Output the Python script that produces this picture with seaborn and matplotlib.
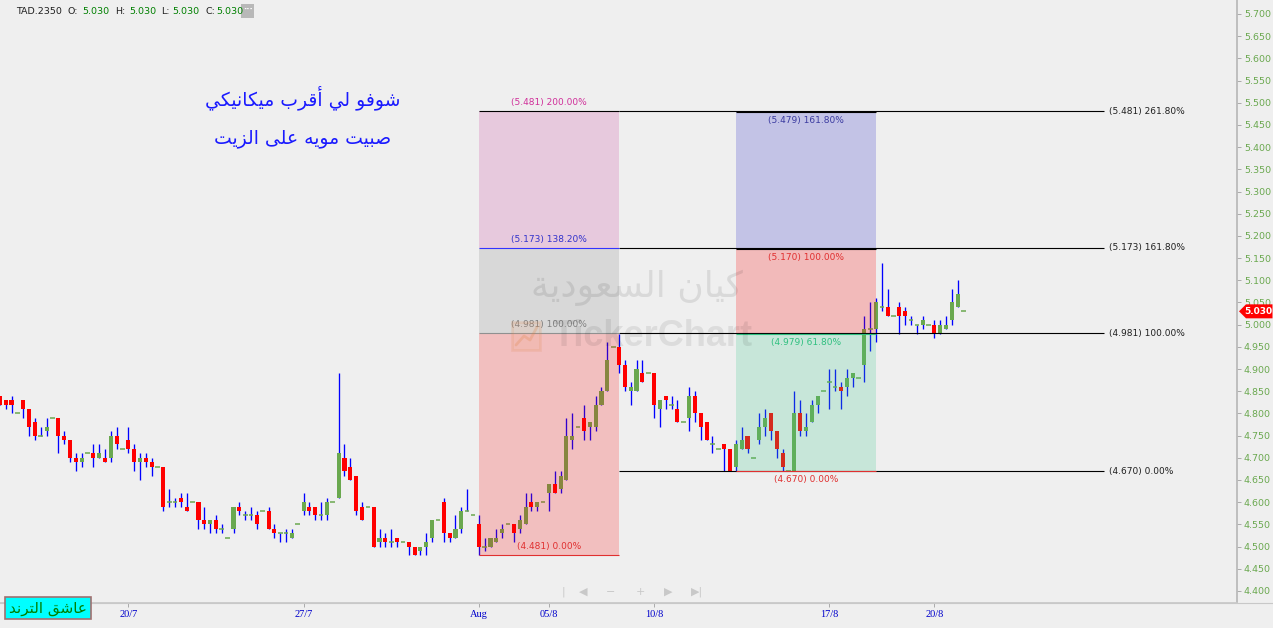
import matplotlib
matplotlib.use("Agg")
import matplotlib.pyplot as plt
import seaborn as sns
import numpy as np
import pandas as pd
from matplotlib.patches import Rectangle, Polygon
from matplotlib.lines import Line2D
from matplotlib.transforms import blended_transform_factory

sns.set_theme(style="white")
plt.rcParams['font.family'] = ['DejaVu Sans']

# hourly candles TAD.2350 (open, high, low, close)
opens = [4.84, 4.83, 4.83, 4.80, 4.83, 4.81, 4.78, 4.75, 4.76, 4.79,
         4.79, 4.75, 4.74, 4.70, 4.69, 4.71, 4.71, 4.70, 4.70, 4.70,
         4.75, 4.72, 4.74, 4.72, 4.69, 4.70, 4.69, 4.68, 4.68, 4.60,
         4.60, 4.61, 4.59, 4.60, 4.60, 4.56, 4.55, 4.56, 4.54, 4.52,
         4.54, 4.59, 4.57, 4.57, 4.57, 4.58, 4.58, 4.54, 4.53, 4.53,
         4.52, 4.55, 4.58, 4.59, 4.59, 4.57, 4.57, 4.60, 4.61, 4.70,
         4.68, 4.66, 4.59, 4.59, 4.59, 4.51, 4.52, 4.51, 4.52, 4.51,
         4.51, 4.50, 4.49, 4.50, 4.52, 4.56, 4.60, 4.53, 4.52, 4.54,
         4.58, 4.57, 4.55, 4.50, 4.50, 4.51, 4.53, 4.55, 4.55, 4.54,
         4.55, 4.60, 4.59, 4.60, 4.62, 4.64, 4.63, 4.65, 4.74, 4.77,
         4.79, 4.77, 4.77, 4.82, 4.85, 4.95, 4.95, 4.91, 4.85, 4.85,
         4.89, 4.89, 4.89, 4.81, 4.84, 4.82, 4.81, 4.78, 4.79, 4.84,
         4.80, 4.78, 4.73, 4.72, 4.73, 4.72, 4.68, 4.72, 4.75, 4.70,
         4.74, 4.77, 4.80, 4.76, 4.71, 4.67, 4.67, 4.80, 4.76, 4.78,
         4.82, 4.85, 4.87, 4.86, 4.86, 4.86, 4.88, 4.88, 4.91, 4.99,
         4.99, 5.04, 5.04, 5.02, 5.04, 5.03, 5.01, 5.00, 5.00, 5.00,
         5.00, 4.98, 4.99, 5.01, 5.04, 5.03]
highs = [4.84, 4.83, 4.84, 4.80, 4.83, 4.81, 4.79, 4.77, 4.79, 4.79,
         4.79, 4.76, 4.74, 4.71, 4.71, 4.71, 4.73, 4.73, 4.72, 4.76,
         4.77, 4.72, 4.77, 4.73, 4.71, 4.71, 4.70, 4.68, 4.68, 4.63,
         4.61, 4.62, 4.62, 4.60, 4.60, 4.59, 4.56, 4.57, 4.55, 4.52,
         4.59, 4.60, 4.58, 4.59, 4.58, 4.58, 4.59, 4.55, 4.53, 4.54,
         4.54, 4.55, 4.62, 4.60, 4.59, 4.60, 4.61, 4.60, 4.89, 4.73,
         4.70, 4.66, 4.60, 4.59, 4.59, 4.54, 4.53, 4.54, 4.52, 4.51,
         4.51, 4.50, 4.50, 4.53, 4.56, 4.56, 4.61, 4.53, 4.57, 4.59,
         4.63, 4.57, 4.57, 4.52, 4.52, 4.54, 4.55, 4.55, 4.55, 4.57,
         4.62, 4.62, 4.60, 4.60, 4.64, 4.67, 4.67, 4.79, 4.80, 4.77,
         4.82, 4.78, 4.84, 4.86, 4.96, 4.95, 4.98, 4.92, 4.87, 4.92,
         4.92, 4.89, 4.89, 4.83, 4.84, 4.84, 4.83, 4.78, 4.86, 4.85,
         4.80, 4.78, 4.75, 4.72, 4.73, 4.72, 4.74, 4.77, 4.75, 4.70,
         4.80, 4.81, 4.80, 4.76, 4.72, 4.67, 4.85, 4.83, 4.80, 4.83,
         4.84, 4.85, 4.90, 4.90, 4.87, 4.90, 4.89, 4.88, 5.02, 5.05,
         5.06, 5.14, 5.08, 5.02, 5.05, 5.04, 5.02, 5.00, 5.02, 5.00,
         5.01, 5.01, 5.02, 5.08, 5.10, 5.03]
lows = [4.82, 4.81, 4.80, 4.80, 4.79, 4.75, 4.74, 4.75, 4.75, 4.79,
        4.71, 4.73, 4.69, 4.67, 4.68, 4.71, 4.68, 4.70, 4.69, 4.69,
        4.72, 4.72, 4.71, 4.67, 4.65, 4.68, 4.66, 4.68, 4.58, 4.59,
        4.59, 4.59, 4.58, 4.60, 4.54, 4.54, 4.53, 4.53, 4.53, 4.52,
        4.53, 4.57, 4.56, 4.56, 4.54, 4.58, 4.54, 4.52, 4.51, 4.51,
        4.52, 4.55, 4.57, 4.57, 4.56, 4.56, 4.56, 4.60, 4.61, 4.66,
        4.65, 4.57, 4.56, 4.59, 4.50, 4.50, 4.50, 4.50, 4.50, 4.51,
        4.48, 4.48, 4.48, 4.48, 4.51, 4.56, 4.51, 4.51, 4.52, 4.53,
        4.58, 4.57, 4.48, 4.49, 4.50, 4.51, 4.52, 4.55, 4.51, 4.53,
        4.55, 4.58, 4.58, 4.60, 4.58, 4.62, 4.62, 4.65, 4.72, 4.77,
        4.74, 4.74, 4.76, 4.82, 4.85, 4.95, 4.89, 4.85, 4.82, 4.85,
        4.87, 4.89, 4.79, 4.77, 4.81, 4.81, 4.78, 4.78, 4.76, 4.78,
        4.74, 4.74, 4.71, 4.72, 4.67, 4.67, 4.67, 4.72, 4.71, 4.70,
        4.73, 4.75, 4.74, 4.70, 4.67, 4.67, 4.67, 4.75, 4.75, 4.78,
        4.80, 4.85, 4.81, 4.85, 4.81, 4.84, 4.86, 4.88, 4.87, 4.94,
        4.96, 5.03, 5.02, 5.02, 4.98, 5.00, 5.00, 4.98, 4.99, 5.00,
        4.97, 4.98, 4.99, 5.00, 5.04, 5.03]
closes = [4.82, 4.82, 4.82, 4.80, 4.81, 4.77, 4.75, 4.75, 4.77, 4.79,
          4.75, 4.74, 4.70, 4.69, 4.70, 4.71, 4.70, 4.71, 4.69, 4.75,
          4.73, 4.72, 4.72, 4.69, 4.70, 4.69, 4.68, 4.68, 4.59, 4.60,
          4.60, 4.60, 4.58, 4.60, 4.56, 4.55, 4.56, 4.54, 4.54, 4.52,
          4.59, 4.58, 4.57, 4.57, 4.55, 4.58, 4.54, 4.53, 4.53, 4.53,
          4.53, 4.55, 4.60, 4.58, 4.57, 4.57, 4.60, 4.60, 4.71, 4.67,
          4.65, 4.58, 4.56, 4.59, 4.50, 4.52, 4.51, 4.51, 4.51, 4.51,
          4.50, 4.48, 4.50, 4.51, 4.56, 4.56, 4.53, 4.52, 4.54, 4.58,
          4.58, 4.57, 4.50, 4.50, 4.52, 4.52, 4.54, 4.55, 4.53, 4.56,
          4.59, 4.59, 4.60, 4.60, 4.64, 4.62, 4.66, 4.75, 4.75, 4.77,
          4.76, 4.78, 4.82, 4.85, 4.92, 4.95, 4.91, 4.86, 4.86, 4.90,
          4.87, 4.89, 4.82, 4.83, 4.83, 4.82, 4.78, 4.78, 4.84, 4.80,
          4.77, 4.74, 4.73, 4.72, 4.72, 4.67, 4.73, 4.74, 4.72, 4.70,
          4.77, 4.79, 4.76, 4.72, 4.68, 4.67, 4.80, 4.76, 4.77, 4.82,
          4.84, 4.85, 4.87, 4.86, 4.85, 4.88, 4.89, 4.88, 4.99, 4.99,
          5.05, 5.04, 5.02, 5.02, 5.02, 5.02, 5.01, 5.00, 5.01, 5.00,
          4.98, 5.00, 5.00, 5.05, 5.07, 5.03]

date_labels = ["20/7", "27/7", "Aug", "05/8", "10/8", "17/8", "20/8"]
date_idx = [22, 52, 82, 94, 112, 142, 160]

# fibonacci tools
fib1_levels = [4.481, 4.981, 5.173, 5.481]
fib1_pcts = ["0.00%", "100.00%", "138.20%", "200.00%"]
fib2_levels = [4.670, 4.979, 5.170, 5.479]
fib2_pcts = ["0.00%", "61.80%", "100.00%", "161.80%"]
ext_levels = [4.670, 4.981, 5.173, 5.481]
ext_pcts = ["0.00%", "100.00%", "161.80%", "261.80%"]

note_lines = ["شوفو لي أقرب ميكانيكي", "صبيت مويه على الزيت"]
badge_text = "عاشق الترند"
watermark_ar = "كيان السعودية"

df = pd.DataFrame({"open": opens, "high": highs, "low": lows, "close": closes})
df["i"] = np.arange(len(df))

# --- arabic shaping (matplotlib has no RTL / joining) ---
FORMS = {
    'ا': ('\uFE8D', '\uFE8E', None, None), 'أ': ('\uFE83', '\uFE84', None, None),
    'ب': ('\uFE8F', '\uFE90', '\uFE91', '\uFE92'), 'ت': ('\uFE95', '\uFE96', '\uFE97', '\uFE98'),
    'ة': ('\uFE93', '\uFE94', None, None), 'د': ('\uFEA9', '\uFEAA', None, None),
    'ر': ('\uFEAD', '\uFEAE', None, None), 'ز': ('\uFEAF', '\uFEB0', None, None),
    'س': ('\uFEB1', '\uFEB2', '\uFEB3', '\uFEB4'), 'ش': ('\uFEB5', '\uFEB6', '\uFEB7', '\uFEB8'),
    'ص': ('\uFEB9', '\uFEBA', '\uFEBB', '\uFEBC'), 'ع': ('\uFEC9', '\uFECA', '\uFECB', '\uFECC'),
    'ف': ('\uFED1', '\uFED2', '\uFED3', '\uFED4'), 'ق': ('\uFED5', '\uFED6', '\uFED7', '\uFED8'),
    'ك': ('\uFED9', '\uFEDA', '\uFEDB', '\uFEDC'), 'ل': ('\uFEDD', '\uFEDE', '\uFEDF', '\uFEE0'),
    'م': ('\uFEE1', '\uFEE2', '\uFEE3', '\uFEE4'), 'ن': ('\uFEE5', '\uFEE6', '\uFEE7', '\uFEE8'),
    'ه': ('\uFEE9', '\uFEEA', '\uFEEB', '\uFEEC'), 'و': ('\uFEED', '\uFEEE', None, None),
    'ى': ('\uFEEF', '\uFEF0', None, None), 'ي': ('\uFEF1', '\uFEF2', '\uFEF3', '\uFEF4'),
}


def shape(text):
    out = []
    for k, ch in enumerate(text):
        if ch not in FORMS:
            out.append(ch)
            continue
        prev = text[k - 1] if k > 0 else ''
        nxt = text[k + 1] if k + 1 < len(text) else ''
        jp = prev in FORMS and FORMS[prev][2] is not None
        jn = nxt in FORMS and FORMS[ch][2] is not None
        iso, fin, ini, med = FORMS[ch]
        out.append(med if jp and jn else fin if jp else ini if jn else iso)
    return ''.join(reversed(out))


W, H = 1273, 628
BG = '#efefef'


def fp(x, y):
    return x / W, 1 - y / H


fig = plt.figure(figsize=(W / 100, H / 100), dpi=100, facecolor=BG)
ax = fig.add_axes([0, 25 / H, 1237 / W, 603 / H])
ax.set_facecolor(BG)
ax.set_xlim(0.024, 211.8)
ax.set_ylim(4.3728, 5.7315)

up = df[df.close > df.open]
dn = df[df.close < df.open]
dj = df[df.close == df.open]

ax.vlines(df.i, df.low, df.high, color='#0000ff', lw=0.95, zorder=2)
ax.bar(up.i, up.close - up.open, bottom=up.open, width=0.7, color='#6aa84f', linewidth=0, zorder=3)
ax.bar(dn.i, dn.open - dn.close, bottom=dn.close, width=0.7, color='#ff0000', linewidth=0, zorder=3)
ax.hlines(dj.close, dj.i - 0.4, dj.i + 0.4, color='#6aa84f', lw=1.1, zorder=3)

# zones
L0, L1 = 82, 106
R0, R1 = 126, 150
EXT_END = 189
zone1 = ['#ff0000', '#808080', '#c83296']
zone2 = ['#3cc88c', '#ff0000', '#2828c8']
for k in range(3):
    ax.add_patch(Rectangle((L0, fib1_levels[k]), L1 - L0, fib1_levels[k + 1] - fib1_levels[k],
                           facecolor=zone1[k], alpha=0.2, lw=0, zorder=4))
    ax.add_patch(Rectangle((R0, fib2_levels[k]), R1 - R0, fib2_levels[k + 1] - fib2_levels[k],
                           facecolor=zone2[k], alpha=0.22, lw=0, zorder=4))

ax.hlines(ext_levels, L1, EXT_END, color='#000000', lw=0.8, zorder=5)
lab1_col = ['#e03030', '#808080', '#3333cc', '#d0309a']
line1_col = ['#e03030', '#909090', '#3333ff', '#000000']
for lv, pc, c, lc in zip(fib1_levels, fib1_pcts, lab1_col, line1_col):
    ax.hlines(lv, L0, L1, color=lc, lw=0.8, zorder=5)
    ax.text((L0 + L1) / 2, lv + 0.009, f"({lv:.3f}) {pc}", color=c, fontsize=6.5,
            ha='center', va='bottom', zorder=6)
lab2_col = ['#e03030', '#30c080', '#e03030', '#3a3aa0']
line2_col = ['#e03030', '#30c080', '#000000', '#000000']
for lv, pc, c, lc in zip(fib2_levels, fib2_pcts, lab2_col, line2_col):
    ax.hlines(lv, R0, R1, color=lc, lw=0.8, zorder=5)
    ax.text((R0 + R1) / 2, lv - 0.009, f"({lv:.3f}) {pc}", color=c, fontsize=6.5,
            ha='center', va='top', zorder=6)
for lv, pc in zip(ext_levels, ext_pcts):
    ax.text(EXT_END + 0.9, lv, f"({lv:.3f}) {pc}", color='#202020', fontsize=6.5,
            ha='left', va='center', zorder=6)

# axes styling
ax.yaxis.tick_right()
ax.set_yticks(np.arange(4.40, 5.7001, 0.05))
ax.yaxis.set_major_formatter(matplotlib.ticker.FormatStrFormatter('%.3f'))
ax.tick_params(axis='y', colors='#a0a0a0', labelcolor='#6aa84f', labelsize=6.8,
               length=3, width=0.6, pad=2, right=True)
ax.set_xticks(date_idx)
ax.set_xticklabels(date_labels, color='#0000cc', fontsize=7.5, family='Liberation Serif')
ax.tick_params(axis='x', colors='#a0a0a0', labelcolor='#0000cc', length=3, width=0.6, pad=2, bottom=True)
for s in ['top', 'left']:
    ax.spines[s].set_visible(False)
ax.spines['right'].set_color('#b8b8b8')
ax.spines['bottom'].set_color('#c8c8c8')
ax.grid(False)
fig.add_artist(Line2D([0, 1], [25 / H, 25 / H], transform=fig.transFigure, color='#c8c8c8', lw=0.8))

# last price tag
bt = blended_transform_factory(fig.transFigure, ax.transData)
last = closes[-1]
d = 7 / 443.8
fig.add_artist(Polygon([(1239 / W, last), (1246 / W, last + d), (1 - 0.5 / W, last + d),
                        (1 - 0.5 / W, last - d), (1246 / W, last - d)],
                       closed=True, facecolor='#ff0000', edgecolor='none', transform=bt))
fig.text(1258 / W, last, f"{last:.3f}", transform=bt, color='white', fontsize=6.5,
         fontweight='bold', ha='center', va='center')

# header
hy = 1 - 11 / H
fig.text(16 / W, hy, "TAD.2350", fontsize=6.8, color='#202020', va='center')
for lab, xl, xv in [("O:", 68, 82), ("H:", 115, 129), ("L:", 161, 172), ("C:", 205, 216)]:
    fig.text(xl / W, hy, lab, fontsize=6.8, color='#202020', va='center')
    fig.text(xv / W, hy, f"{last:.3f}", fontsize=6.8, color='#008000', va='center')
fig.add_artist(Rectangle(fp(241, 18), 13 / W, 14 / H, transform=fig.transFigure,
                         facecolor='#b8b8b8', edgecolor='none'))
fig.text(247.5 / W, 1 - 10 / H, "···", fontsize=6, color='white', ha='center', va='center', fontweight='bold')

# notes
fig.text(*fp(303, 98), shape(note_lines[0]), fontsize=13.5, color='#1a1aff', ha='center', va='center')
fig.text(*fp(303, 139), shape(note_lines[1]), fontsize=13.5, color='#1a1aff', ha='center', va='center')

# watermark
fig.text(*fp(637, 288), shape(watermark_ar), fontsize=26, color='#000000', alpha=0.09,
         ha='center', va='center')
fig.text(*fp(653, 336), "TickerChart", fontsize=26, color='#000000', alpha=0.08,
         ha='center', va='center', fontweight='bold', family='Liberation Sans')
fig.add_artist(Rectangle(fp(512, 350), 28 / W, 28 / H, transform=fig.transFigure,
                         facecolor='#f0a070', edgecolor='#e08040', alpha=0.15, lw=2))
fig.add_artist(Line2D([516 / W, 524 / W, 530 / W, 537 / W], [1 - 345 / H, 1 - 336 / H, 1 - 340 / H, 1 - 327 / H],
                      transform=fig.transFigure, color='#e08040', alpha=0.25, lw=2))

# badge
fig.text(*fp(48, 608), shape(badge_text), fontsize=11, color='#008000', ha='center', va='center',
         bbox=dict(boxstyle='square,pad=0.25', facecolor='#00ffff', edgecolor='#a07070', lw=1.2))

# navigation icons
for xx, s in [(563, "|"), (583, "◀"), (611, "−"), (640, "+"), (668, "▶"), (697, "▶|")]:
    fig.text(*fp(xx, 592), s, fontsize=8, color='#c8c8c8', ha='center', va='center')

fig.savefig("out.png", dpi=100, facecolor=BG)
